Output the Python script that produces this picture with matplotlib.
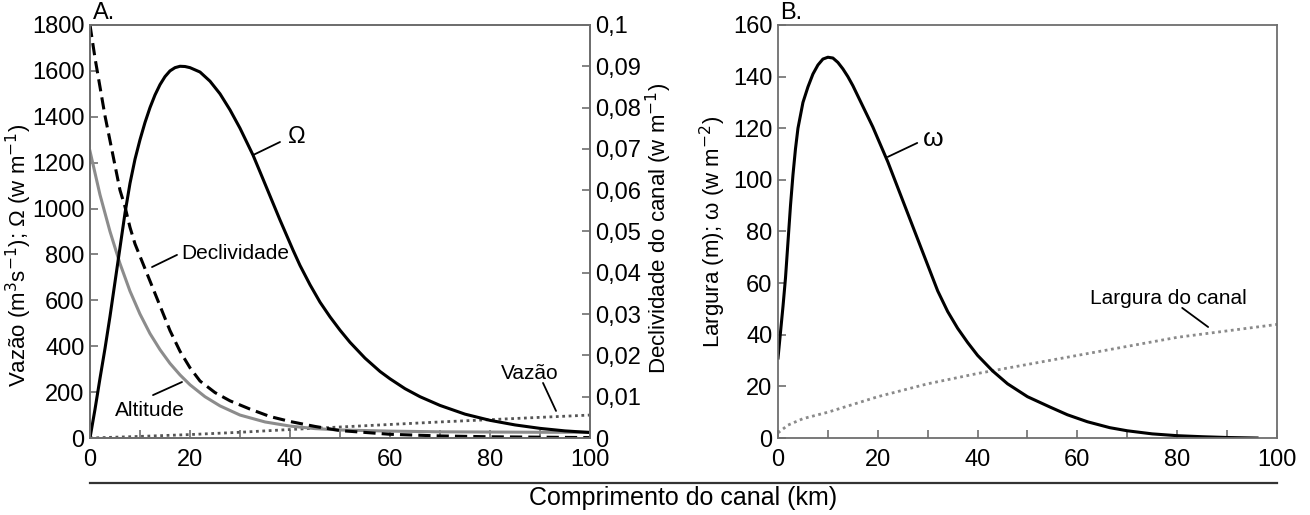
import numpy as np
import matplotlib
matplotlib.use("Agg")
import matplotlib.pyplot as plt

plt.rcParams['font.family'] = ['Liberation Sans', 'DejaVu Sans']

# ---- painel A ----
omega_x = [0, 1, 2, 3, 4, 5, 6, 7, 8, 9, 10, 11, 12, 13, 14, 15, 16, 17, 18, 19, 20, 22, 24,
           26, 28, 30, 32.6, 34, 36, 38, 40.6, 42, 44, 46, 48, 50, 52, 55, 58, 60, 63, 66,
           70, 75, 80, 85, 90, 95, 100]
omega_A = [0, 125, 260, 390, 530, 680, 830, 980, 1110, 1215, 1300, 1375, 1440, 1495, 1540,
           1575, 1600, 1614, 1620, 1619, 1614, 1595, 1555, 1500, 1430, 1350, 1233, 1160,
           1055, 950, 819, 752, 668, 592, 528, 470, 417, 348, 290, 258, 215, 180, 142, 104,
           77, 57, 42, 31, 24]

decl_x = [0, 1, 2, 3, 4, 5, 6, 7, 8, 9, 10, 12, 14, 16, 18, 20, 22, 25, 28, 32, 36, 40, 45,
          50, 60, 70, 80, 90, 100]
decl = [0.1, 0.092, 0.085, 0.078, 0.072, 0.066, 0.060, 0.056, 0.051, 0.047, 0.044, 0.038,
        0.032, 0.026, 0.021, 0.017, 0.0138, 0.0110, 0.0090, 0.0070, 0.0052, 0.0040, 0.0028,
        0.0018, 0.0009, 0.0005, 0.0003, 0.0002, 0.0001]

alt_x = [0, 2, 4, 6, 8, 10, 12, 14, 16, 18, 20, 23, 26, 30, 35, 40, 45, 50, 60, 70, 80, 90, 100]
altitude = [1250, 1060, 900, 760, 640, 540, 455, 385, 325, 275, 232, 180, 140, 100, 70, 52,
            41, 35, 30, 27, 26, 25, 25]

vaz_x = [0, 10, 20, 30, 40, 50, 60, 70, 80, 90, 100]
vazao = [0, 7, 15, 25, 37, 48, 59, 70, 80, 90, 100]

# ---- painel B ----
w_x = [0, 0.5, 1, 1.5, 2, 2.5, 3, 3.5, 4, 5, 6, 7, 8, 9, 10, 11, 12, 13, 14, 15, 16, 17, 18,
       19, 20, 21, 22, 24, 26, 28, 30, 32, 34, 36, 38, 40, 43, 46, 50, 54.5, 58, 62, 66.5, 70,
       75, 80, 85, 90, 96]
w_B = [31, 41, 51, 62, 76, 90, 102, 112, 120, 130, 136, 141, 144.5, 146.8, 147.5, 147.2,
       145.5, 143, 140, 136.5, 132.5, 128.5, 124.5, 120.5, 116, 111.5, 107, 97, 87, 77, 67,
       57, 49, 42.5, 37, 32, 26, 21, 16, 12, 9, 6.3, 4, 2.8, 1.6, 0.9, 0.5, 0.2, 0]

larg_x = [0, 2, 5, 10, 20, 30, 40, 50, 60, 70, 80, 90, 100]
largura = [2, 5, 7.5, 10, 16, 21, 25, 28.5, 32, 35.5, 39, 41.5, 44]

fig = plt.figure(figsize=(13.1, 5.15), dpi=100)
axA = fig.add_axes([0.0687, 0.1495, 0.3817, 0.802])
axB = fig.add_axes([0.5939, 0.1495, 0.3809, 0.802])
axR = axA.twinx()

spc = '#6e6e6e'
tick_fs = 17

axA.plot(vaz_x, vazao, color='#555555', lw=2.0, linestyle=(0, (1, 1.3)))
axA.plot(alt_x, altitude, color='#8c8c8c', lw=2.2)
axA.plot(omega_x, omega_A, color='black', lw=2.2)
axR.plot(decl_x, decl, color='black', lw=2.2, linestyle=(0, (4, 2)))

axA.set_xlim(0, 100)
axA.set_ylim(0, 1800)
axR.set_ylim(0, 0.1)
axA.set_yticks(np.arange(0, 1801, 200))
rt = np.arange(0, 0.1001, 0.01)
axR.set_yticks(rt)
axR.set_yticklabels(['0', '0,01', '0,02', '0,03', '0,04', '0,05', '0,06', '0,07', '0,08',
                     '0,09', '0,1'])

axB.plot(larg_x, largura, color='#8a8a8a', lw=2.0, linestyle=(0, (1, 1.3)))
axB.plot(w_x, w_B, color='black', lw=2.2)
axB.set_xlim(0, 100)
axB.set_ylim(0, 160)
axB.set_yticks(np.arange(0, 161, 20))

for ax in (axA, axB, axR):
    for s in ax.spines.values():
        s.set_color(spc)
        s.set_linewidth(1.3)
    ax.tick_params(direction='in', length=6, width=1.2, color=spc, labelsize=tick_fs, pad=4)
for ax in (axA, axB):
    ax.set_xticks(np.arange(0, 101, 20))
    ax.set_xticks(np.arange(10, 100, 20), minor=True)
    ax.tick_params(axis='x', which='minor', direction='in', length=6, width=1.2, color=spc)
    ax.tick_params(axis='x', pad=8)

# títulos dos eixos (centrados em pixels da figura)
fig.text(19 / 1310, 1 - 255 / 515, 'Vazão (m$^3$s$^{-1}$); Ω (w m$^{-1}$)', fontsize=16,
         rotation=90, ha='center', va='center')
fig.text(659 / 1310, 1 - 228 / 515, 'Declividade do canal (w m$^{-1}$)', fontsize=16,
         rotation=90, ha='center', va='center')
fig.text(713 / 1310, 1 - 232 / 515, 'Largura (m); ω (w m$^{-2}$)', fontsize=16,
         rotation=90, ha='center', va='center')

axA.text(0.006, 1.003, 'A.', transform=axA.transAxes, fontsize=17, va='bottom', ha='left')
axB.text(0.004, 1.003, 'B.', transform=axB.transAxes, fontsize=17, va='bottom', ha='left')

# rótulos das curvas com linha de chamada
labels_A = [('Ω', 41.4, 1312, 17, (32.6, 1233), (38, 1290)),
            ('Declividade', 29.1, 806, 15, (12.4, 745), (17.4, 798)),
            ('Altitude', 12, 122, 15, (12.6, 187), (18.4, 244)),
            ('Vazão', 88, 283, 15, (93.2, 118), (90.6, 240))]
for t, tx, ty, fs, p0, p1 in labels_A:
    axA.text(tx, ty, t, fontsize=fs, ha='center', va='center')
    axA.annotate('', xy=p0, xytext=p1, arrowprops=dict(arrowstyle='-', color='black', lw=1.3,
                                                       shrinkA=0, shrinkB=0))

labels_B = [('ω', 31.1, 116, 19, (22.0, 108.9), (27.9, 114.3)),
            ('Largura do canal', 78.2, 54.2, 15, (86.2, 43), (81, 50.4))]
for t, tx, ty, fs, p0, p1 in labels_B:
    axB.text(tx, ty, t, fontsize=fs, ha='center', va='center')
    axB.annotate('', xy=p0, xytext=p1, arrowprops=dict(arrowstyle='-', color='black', lw=1.3,
                                                       shrinkA=0, shrinkB=0))

fig.add_artist(plt.Line2D([0.0687, 0.975], [0.0621, 0.0621], color='#333333', lw=1.6,
                          transform=fig.transFigure))
fig.text(0.5214, 0.033, 'Comprimento do canal (km)', fontsize=18, ha='center', va='center')

fig.savefig('out.png', dpi=100)
